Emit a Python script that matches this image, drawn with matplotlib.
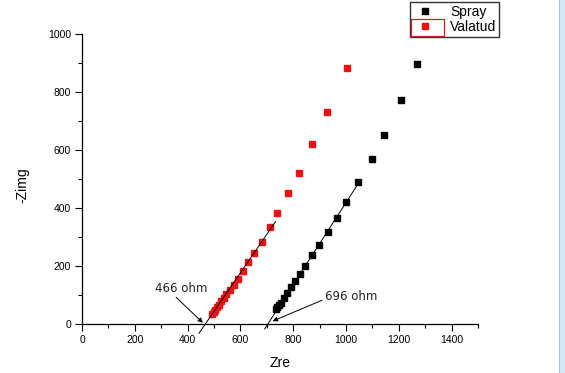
import matplotlib
matplotlib.use("Agg")
import matplotlib.pyplot as plt
from matplotlib.patches import Rectangle
from matplotlib.ticker import MultipleLocator

# Data
spray_x = [1269, 1208, 1143, 1098, 1047, 1000, 966, 931, 898, 871, 845, 826, 805, 791, 776, 764, 755, 746, 740, 734]
spray_y = [897, 774, 651, 569, 491, 419, 366, 317, 274, 238, 200, 173, 150, 129, 108, 89, 74, 65, 57, 52]
valatud_x = [1003, 928, 872, 821, 780, 738, 711, 681, 652, 629, 610, 591, 575, 560, 546, 536, 527, 519, 512, 505, 499, 494]
valatud_y = [884, 730, 621, 522, 451, 382, 336, 284, 244, 213, 184, 156, 134, 117, 103, 90, 78, 67, 57, 48, 40, 34]

# Fitted lines
valatud_fit_x = [443, 733]
valatud_fit_y = [-32, 353]
spray_fit_x = [692, 1044]
spray_fit_y = [-17, 481]

x_ticks = [0, 200, 400, 600, 800, 1000, 1200, 1400]
y_ticks = [0, 200, 400, 600, 800, 1000]

fig = plt.figure(figsize=(5.65, 3.73), dpi=100)
fig.patch.set_facecolor("white")
ax = fig.add_axes([82/565, 49/373, 396/565, 290/373])

ax.plot(spray_x, spray_y, 's', color='black', ms=4.8, mec='black', label='Spray', zorder=3)
ax.plot(valatud_x, valatud_y, 's', color='#ee1111', ms=4.8, mec='#ee1111', label='Valatud', zorder=3)
ax.plot(valatud_fit_x, valatud_fit_y, '-', color='black', lw=0.7, clip_on=False, zorder=4)
ax.plot(spray_fit_x, spray_fit_y, '-', color='black', lw=0.7, clip_on=False, zorder=4)

ax.set_xlim(0, 1500)
ax.set_ylim(0, 1000)
ax.spines['top'].set_visible(False)
ax.spines['right'].set_visible(False)
ax.spines['left'].set_linewidth(0.9)
ax.spines['bottom'].set_linewidth(0.9)
ax.set_xticks(x_ticks)
ax.set_yticks(y_ticks)
ax.xaxis.set_minor_locator(MultipleLocator(100))
ax.yaxis.set_minor_locator(MultipleLocator(100))
ax.tick_params(which='major', direction='out', length=5, width=0.8, labelsize=7.5, pad=3)
ax.tick_params(which='minor', direction='out', length=3, width=0.8)
for lab in ax.get_xticklabels() + ax.get_yticklabels():
    lab.set_family('Liberation Sans')
ax.set_xlabel('Zre', fontsize=10, family='Liberation Sans', labelpad=8)
fig.text(22/565, 1 - 185/373, '-Zimg', rotation=90, fontsize=10, family='Liberation Sans',
         ha='center', va='center')

ax.annotate('466 ohm', xy=(458, 4), xytext=(276, 124), fontsize=8.5, family='DejaVu Sans',
            color='#222222', va='center',
            arrowprops=dict(arrowstyle='-|>', color='black', lw=0.7, mutation_scale=7,
                            shrinkA=0, shrinkB=0, relpos=(0.35, 0)))
ax.annotate('696 ohm', xy=(722, 10), xytext=(920, 95), fontsize=8.5, family='DejaVu Sans',
            color='#222222', va='center',
            arrowprops=dict(arrowstyle='-|>', color='black', lw=0.7, mutation_scale=7,
                            shrinkA=0, shrinkB=0, relpos=(0, 0.3)))

leg = fig.legend(loc='upper left', bbox_to_anchor=(410/565, 1 - 2/373),
                 frameon=True, fancybox=False, edgecolor='black', handlelength=1.8,
                 handletextpad=0.9, borderpad=0.2, labelspacing=0.1, borderaxespad=0,
                 markerscale=1.0, prop={'family': 'Liberation Sans', 'size': 10})
leg.get_frame().set_linewidth(1.0)

# selection highlight around the Valatud legend marker
fig.patches.append(Rectangle((411/565, 1 - 36/373), 33/565, 17/373, transform=fig.transFigure,
                             fill=False, edgecolor='#cc2222', lw=0.9, zorder=10))

# window border strip on the right
fig.patches.append(Rectangle((559/565, 0), 6/565, 1, transform=fig.transFigure,
                             facecolor='#d7e6f3', edgecolor='none', zorder=10))
fig.patches.append(Rectangle((559/565, 0), 1/565, 1, transform=fig.transFigure,
                             facecolor='#aac4dc', edgecolor='none', zorder=10))

fig.savefig('out.png', dpi=100)
